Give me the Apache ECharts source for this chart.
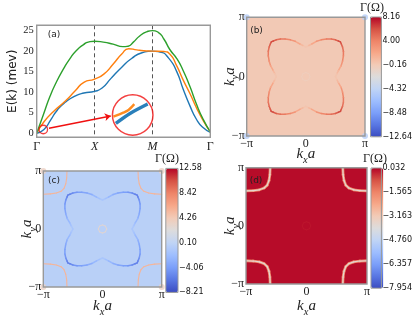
<!DOCTYPE html>
<html>
<head>
<meta charset="utf-8">
<style>html,body{margin:0;padding:0;background:#fff}#c{width:415px;height:319px}</style>
<script src="https://cdn.jsdelivr.net/npm/echarts@6/dist/echarts.min.js"></script>
</head>
<body>
<div id="c"></div>
<script>
// ---- panel (a): band structure, x in path units (Gamma=0, X=1, M=2, Gamma=3) ----
const pathLabels = ['{n|Γ}', '{i|X}', '{i|M}', '{n|Γ}'];
const energyTicks = [0, 5, 10, 15, 20, 25];
const blueBand = [[0,0],[.126,.9],[.24,3.2],[.355,5.6],[.5,7.6],[.67,9.1],[.815,9.8],[1,10.2],[1.13,11],[1.28,13.3],[1.47,16.1],[1.64,18.2],[1.82,19.6],[2,20],[2.13,19.8],[2.28,18.3],[2.42,15],[2.53,10.8],[2.65,6.6],[2.76,3.4],[2.88,1.3],[3,.2]];
const orangeBand = [[0,0],[.126,2.8],[.3,5.4],[.5,7.9],[.67,10.4],[.815,12.4],[1,13.2],[1.16,14.4],[1.33,17],[1.47,19.3],[1.59,20.6],[1.73,20.3],[1.85,20.1],[2,20],[2.2,19.9],[2.3,19.3],[2.42,16.4],[2.53,13],[2.65,9.6],[2.76,6.2],[2.88,3],[3,.3]];
const greenBand = [[0,0],[.115,4.5],[.23,9],[.345,12.6],[.46,15.6],[.575,18.2],[.69,20.2],[.81,21.6],[.89,22.2],[1,22.4],[1.15,22.2],[1.32,21.7],[1.49,21.1],[1.58,21.2],[1.67,22.2],[1.78,23.7],[1.9,24.7],[2,25],[2.1,24.6],[2.2,22.9],[2.3,20.4],[2.42,18.2],[2.53,15.3],[2.65,11.3],[2.76,7.1],[2.88,3.3],[3,.3]];
const insetBlue = [[.10,.30],[.436,.535],[.857,.76]];
const insetOrange = [[.04,.46],[.277,.555],[.4,.62],[.538,.76]];
const zoomSpot = [[.114,.9]];
const arrowFrom = [.212,1.2], arrowTo = [1.28,4.2];

// ---- panels (b,c,d): Gamma over k-space, k in units of pi ----
const piLabels = {'-1':'−π','0':'0','1':'π'};
const lobeKx = [0,.05,.10,.18,.26,.35,.43,.50,.55,.585,.60,.62,.635,.635,.62,.595,.55,.525,.50];
const lobeKy = [.50,.525,.55,.595,.62,.635,.635,.62,.60,.585,.55,.50,.43,.35,.26,.18,.10,.05,0];
const lobeGammaB = [0,.5,1.4,2.5,3.5,4.2,4.6,5.2,6,6.4,6,5.2,4.6,4.2,3.5,2.5,1.4,.5,0];
const lobeGammaC = [-1,-1.5,-2,-2.8,-3.4,-3.9,-4.2,-4.8,-5.4,-5.8,-5.4,-4.8,-4.2,-3.9,-3.4,-2.8,-2,-1.5,-1];
const arcKx = [.60,.605,.62,.65,.70,.78,.88,1];
const arcKy = [1,.88,.78,.70,.65,.62,.605,.60];
const arcGammaC = [5.6,5.6,5.6,5.6,5.6,5.6,5.6,5.6];
const arcGammaD = [-3.7,-3.7,-3.7,-3.7,-3.7,-3.7,-3.7,-3.7];
const arcHaloD = [-1.6,-1.6,-1.6,-1.6,-1.6,-1.6,-1.6,-1.6];
const ringKx = [.07,.05,0,-.05,-.07,-.05,0,.05,.07];
const ringKy = [0,.05,.07,.05,0,-.05,-.07,-.05,0];
const backgroundGamma = {b:-.05, c:-.3, d:-.05};
const ringGamma = {b:-.5, c:3, d:-.15};
const cornerGamma = {b:-5, c:3.6};
const cornerKx = [-1,1,-1,1], cornerKy = [-1,-1,1,1];
const barLabelsB = ['−12.64','−8.48','−4.32','−0.16','4.00','8.16'];
const barLabelsC = ['−8.21','−4.06','0.10','4.26','8.42','12.58'];
const barLabelsD = ['−7.954','−6.357','−4.760','−3.163','−1.565','0.032'];
const barRangeB = [-12.64, 8.16], barRangeC = [-8.21, 12.58], barRangeD = [-7.954, 0.032];
const coolwarm = ['#3b4cc0','#5977e3','#7b9ff9','#9ebeff','#c0d4f5','#dddcdc','#f2cbb7','#f7a889','#ee8468','#d65244','#b40426'];

// ---- layout ----
const SPINE = '#999999', TXT = '#222222';
const SERIF = '"Liberation Serif","DejaVu Serif",serif', SANS = '"DejaVu Sans",sans-serif';
const panelBox = {
  a:{left:36.7, top:25.3, width:173.6, height:112},
  b:{left:246.7, top:17.3, width:118.3, height:118.7},
  c:{left:43.3, top:171, width:118.4, height:120.7},
  d:{left:246, top:167.7, width:121, height:120.6}
};
const barBox = {
  b:{left:370.5, top:17, width:11.2, height:119.8},
  c:{left:165.8, top:168.4, width:12.2, height:124},
  d:{left:371, top:168, width:12.3, height:120.2}
};
const insetBox = {left:111.7, top:94, width:42, height:42};
const xNameGap = {b:6.5, c:8, d:11}, yNameGap = {b:5.5, c:5, d:4};

const grids = [], xAxes = [], yAxes = [], series = [], visualMaps = [];
function addGrid(box, opts){
  grids.push(Object.assign({containLabel:false, show:true, borderColor:SPINE, borderWidth:1.4, backgroundColor:'transparent', z:6}, box, opts||{}));
  return grids.length - 1;
}
const nameRich = {
  k:{fontFamily:SERIF, fontStyle:'italic', fontSize:15, color:TXT, lineHeight:23},
  s:{fontFamily:SERIF, fontStyle:'italic', fontSize:10.5, color:TXT, verticalAlign:'bottom', lineHeight:23}
};

// panel (a)
const ga = addGrid(panelBox.a);
xAxes.push({gridIndex:ga, type:'value', min:0, max:3, interval:1,
  axisLine:{show:false}, axisTick:{show:false},
  splitLine:{show:true, showMinLine:false, showMaxLine:false, lineStyle:{color:'#555', type:[4,3], width:1}},
  axisLabel:{margin:4, formatter:v=>pathLabels[v],
    rich:{n:{fontFamily:SERIF,fontSize:12,color:TXT},i:{fontFamily:SERIF,fontStyle:'italic',fontSize:12,color:TXT}}}});
yAxes.push({gridIndex:ga, type:'value', min:-1, max:26.3, interval:5,
  axisLine:{show:false}, axisTick:{show:false}, splitLine:{show:false},
  axisLabel:{margin:3, fontFamily:SERIF, fontSize:10.5, color:TXT, customValues:energyTicks},
  name:'E(k) (mev)', nameLocation:'middle', nameGap:17, nameRotate:90,
  nameTextStyle:{fontFamily:SANS, fontSize:12, color:TXT}});
[[blueBand,'#1f77b4'],[orangeBand,'#ff7f0e'],[greenBand,'#2ca02c']].forEach(([d,c])=>{
  series.push({type:'line', xAxisIndex:ga, yAxisIndex:ga, data:d, smooth:.6, showSymbol:false, symbol:'none', lineStyle:{color:c,width:1.4}, z:3});
});
series.push({type:'scatter', xAxisIndex:ga, yAxisIndex:ga, data:zoomSpot, symbolSize:8.5, z:7,
  itemStyle:{color:'transparent', borderColor:'#f01010', borderWidth:1.3},
  markLine:{silent:true, animation:false, symbol:['none','arrow'], symbolSize:6, label:{show:false},
    lineStyle:{color:'#f01010', width:1.4, type:'solid'}, data:[[{coord:arrowFrom},{coord:arrowTo}]]}});

// inset of panel (a)
const gi = addGrid(insetBox, {show:false, z:8});
xAxes.push({gridIndex:gi, type:'value', min:0, max:1, show:false});
yAxes.push({gridIndex:gi, type:'value', min:0, max:1, show:false});
series.push({type:'scatter', xAxisIndex:gi, yAxisIndex:gi, data:[[.5,.5]], symbolSize:40.5, z:8, clip:false,
  itemStyle:{color:'#ffffff', borderColor:'#f01010', borderWidth:1.5}});
series.push({type:'line', xAxisIndex:gi, yAxisIndex:gi, data:insetBlue, smooth:.3, symbol:'none', lineStyle:{color:'#2a7fba',width:3.4}, z:9});
series.push({type:'line', xAxisIndex:gi, yAxisIndex:gi, data:insetOrange, smooth:.3, symbol:'none', lineStyle:{color:'#ff8c20',width:2.4}, z:9});

// heatmap panels
function backgroundRender(params, api){
  const p0 = api.coord([api.value(0), api.value(1)]);
  const p1 = api.coord([api.value(3), api.value(4)]);
  return {type:'rect', shape:{x:p0[0], y:p1[1], width:p1[0]-p0[0], height:p0[1]-p1[1]}, style:{fill:api.visual('color')}};
}
function segmentRender(width){
  return function(params, api){
    const p0 = api.coord([api.value(0), api.value(1)]);
    const p1 = api.coord([api.value(3), api.value(4)]);
    return {type:'line', shape:{x1:p0[0], y1:p0[1], x2:p1[0], y2:p1[1]},
      style:{stroke:api.visual('color'), lineWidth:width, lineCap:'round', fill:null}};
  };
}
function segments(kx, ky, g, sx, sy){
  const rows = [];
  for (let i = 0; i + 1 < kx.length; i++) rows.push([kx[i]*sx, ky[i]*sy, (g[i]+g[i+1])/2, kx[i+1]*sx, ky[i+1]*sy]);
  return rows;
}
const QUADRANTS = [[1,1],[-1,1],[1,-1],[-1,-1]];
function addPanel(key, labels, range, parts){
  const g = addGrid(panelBox[key]);
  const vmSeries = [];
  const push = s => { series.push(Object.assign({xAxisIndex:g, yAxisIndex:g}, s)); vmSeries.push(series.length-1); };
  const axisLabel = {formatter:v=>piLabels[v], fontFamily:SERIF, fontSize:12, color:TXT};
  xAxes.push({gridIndex:g, type:'value', min:-1, max:1, interval:1, axisLine:{show:false}, axisTick:{show:false}, splitLine:{show:false},
    axisLabel:Object.assign({margin:2}, axisLabel),
    name:'{k|k}{s|x}{k|a}', nameLocation:'middle', nameGap:xNameGap[key], nameMoveOverlap:false, nameTextStyle:{rich:nameRich}});
  yAxes.push({gridIndex:g, type:'value', min:-1, max:1, interval:1, axisLine:{show:false}, axisTick:{show:false}, splitLine:{show:false},
    axisLabel:Object.assign({margin:2}, axisLabel),
    name:'{k|k}{s|y}{k|a}', nameLocation:'middle', nameGap:yNameGap[key], nameMoveOverlap:false, nameRotate:90, nameTextStyle:{rich:nameRich}});
  push({type:'custom', renderItem:backgroundRender, data:[[-1,-1,backgroundGamma[key],1,1]], z:2, clip:true,
    encode:{x:[0,3], y:[1,4]}, silent:true});
  parts.forEach(p => {
    const rows = [];
    (p.once ? [[1,1]] : QUADRANTS).forEach(q => rows.push(...segments(p.kx, p.ky, p.g, q[0], q[1])));
    push({type:'custom', renderItem:segmentRender(p.w), data:rows, z:3, clip:true, encode:{x:[0,3], y:[1,4]}, silent:true});
  });
  if (cornerGamma[key] !== undefined) {
    push({type:'scatter', data:cornerKx.map((x,i)=>[x,cornerKy[i],cornerGamma[key]]), symbolSize:6, z:4, clip:true, silent:true});
  }
  visualMaps.push({type:'continuous', min:range[0], max:range[1], dimension:2, seriesIndex:vmSeries,
    left:barBox[key].left, top:barBox[key].top, itemWidth:barBox[key].width, itemHeight:barBox[key].height,
    padding:0, calculable:false, hoverLink:false, realtime:false, inRange:{color:coolwarm}, z:4});
  const gb = addGrid(barBox[key], {borderWidth:1});
  xAxes.push({gridIndex:gb, type:'value', min:0, max:1, show:false});
  yAxes.push({gridIndex:gb, type:'value', min:0, max:5, interval:1, position:'right',
    axisLine:{show:false}, axisTick:{show:false}, splitLine:{show:false},
    axisLabel:{margin:1, formatter:v=>labels[v], fontFamily:SANS, fontSize:8, color:'#111'}});
}
const ringB = ringKx.map(()=>ringGamma.b), ringC = ringKx.map(()=>ringGamma.c), ringD = ringKx.map(()=>ringGamma.d);
addPanel('b', barLabelsB, barRangeB, [
  {kx:lobeKx, ky:lobeKy, g:lobeGammaB, w:1.5},
  {kx:ringKx, ky:ringKy, g:ringB, w:1, once:true}
]);
addPanel('c', barLabelsC, barRangeC, [
  {kx:arcKx, ky:arcKy, g:arcGammaC, w:1.1},
  {kx:lobeKx, ky:lobeKy, g:lobeGammaC, w:1.5},
  {kx:ringKx, ky:ringKy, g:ringC, w:.9, once:true}
]);
addPanel('d', barLabelsD, barRangeD, [
  {kx:arcKx, ky:arcKy, g:arcHaloD, w:2.8},
  {kx:arcKx, ky:arcKy, g:arcGammaD, w:1.2},
  {kx:ringKx, ky:ringKy, g:ringD, w:.9, once:true}
]);

function label(text, x, y, font, size, extra){
  return {type:'text', x, y, z:20, silent:true, style:Object.assign({text, fontFamily:font, fontSize:size, fill:TXT, align:'center', verticalAlign:'middle'}, extra||{})};
}
const graphicItems = [
  label('(a)', 54, 35, SANS, 9),
  label('(b)', 256.5, 30.5, SANS, 9),
  label('(c)', 54, 180.5, SANS, 9),
  label('(d)', 256, 180.5, SANS, 9),
  label('Γ(Ω)', 372, 8, SERIF, 12),
  label('Γ(Ω)', 167, 158.5, SERIF, 12),
  label('Γ(Ω)', 375, 158.5, SERIF, 12)
];

const chart = echarts.init(document.getElementById('c'), null, {renderer:'canvas', width:415, height:319});
chart.setOption({
  animation:false,
  backgroundColor:'#ffffff',
  grid:grids, xAxis:xAxes, yAxis:yAxes, series,
  visualMap:visualMaps,
  graphic:{elements:graphicItems}
});
</script>
</body>
</html>
